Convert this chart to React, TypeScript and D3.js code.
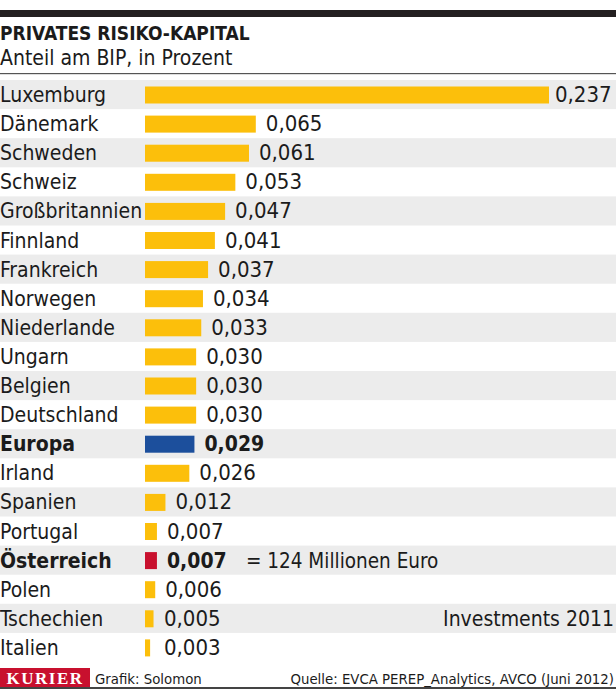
import React from "react";
import * as d3 from "d3";

const countries = ["Luxemburg","Dänemark","Schweden","Schweiz","Großbritannien","Finnland","Frankreich","Norwegen","Niederlande","Ungarn","Belgien","Deutschland","Europa","Irland","Spanien","Portugal","Österreich","Polen","Tschechien","Italien"];
const values = [0.237,0.065,0.061,0.053,0.047,0.041,0.037,0.034,0.033,0.030,0.030,0.030,0.029,0.026,0.012,0.007,0.007,0.006,0.005,0.003];
const highlight: Record<string, string> = { Europa: "blue", "Österreich": "red" };

const W = 616, H = 689;
const FONT = "'DejaVu Sans Condensed', sans-serif";
const colors = { yellow: "#fcbf0b", blue: "#1c4f9c", red: "#c8102e", stripe: "#ececec", text: "#1b1b1b" };

export default function App() {
  const maxV = d3.max(values)!;
  const x = d3.scaleLinear().domain([0, maxV]).range([145, 549]);
  const y = d3.scaleBand<number>().domain(d3.range(countries.length)).range([80, 662]).paddingInner(0);
  const fmt = (v: number) => d3.format(".3f")(v).replace(".", ",");
  const labelX = (v: number) => (v === maxV ? x(v) + 6 : Math.max(x(v) + 10, 164));
  return (
    <svg width={W} height={H} style={{ position: "absolute", left: 0, top: 0, background: "#fff" }} fontFamily={FONT}>
      <rect x={0} y={10} width={W} height={7} fill="#231f20" />
      <text x={0} y={40} fontSize={19} fontWeight="bold" fill={colors.text}>PRIVATES RISIKO-KAPITAL</text>
      <text x={0} y={65} fontSize={21} fill={colors.text}>Anteil am BIP, in Prozent</text>
      <rect x={0} y={73} width={W} height={1.2} fill="#555" />
      {countries.map((c, i) => {
        const top = y(i)!;
        const h = y.bandwidth();
        const kind = highlight[c];
        const fill = kind === "blue" ? colors.blue : kind === "red" ? colors.red : colors.yellow;
        const bold = !!kind;
        return (
          <g key={c}>
            {i % 2 === 0 && <rect x={0} y={top} width={W} height={h} fill={colors.stripe} />}
            <text x={0} y={top + 22} fontSize={21} fontWeight={bold ? "bold" : "normal"} fill={colors.text}>{c}</text>
            <rect x={x(0)} y={top + 6.5} width={x(values[i]) - x(0)} height={17} fill={fill} />
            <text x={labelX(values[i])} y={top + 22} fontSize={bold ? 21 : 22} fontWeight={bold ? "bold" : "normal"} fill={colors.text}>{fmt(values[i])}</text>
            {c === "Österreich" && (
              <text x={246} y={top + 22} fontSize={20.5} fill={colors.text}>= 124 Millionen Euro</text>
            )}
            {c === "Tschechien" && (
              <text x={614} y={top + 22} fontSize={21} textAnchor="end" fill={colors.text}>Investments 2011</text>
            )}
          </g>
        );
      })}
      <rect x={0} y={668} width={90} height={19} fill={colors.red} />
      <text x={45} y={684} fontSize={17} fontFamily="'Liberation Serif', serif" fontWeight="bold" fill="#fff" textAnchor="middle" letterSpacing={1.5}>KURIER</text>
      <text x={95} y={684} fontSize={14.8} fill={colors.text}>Grafik: Solomon</text>
      <text x={614} y={684} fontSize={14.8} textAnchor="end" fill={colors.text}>Quelle: EVCA PEREP_Analytics, AVCO (Juni 2012)</text>
      <rect x={0} y={687} width={W} height={2} fill="#444" />
    </svg>
  );
}
